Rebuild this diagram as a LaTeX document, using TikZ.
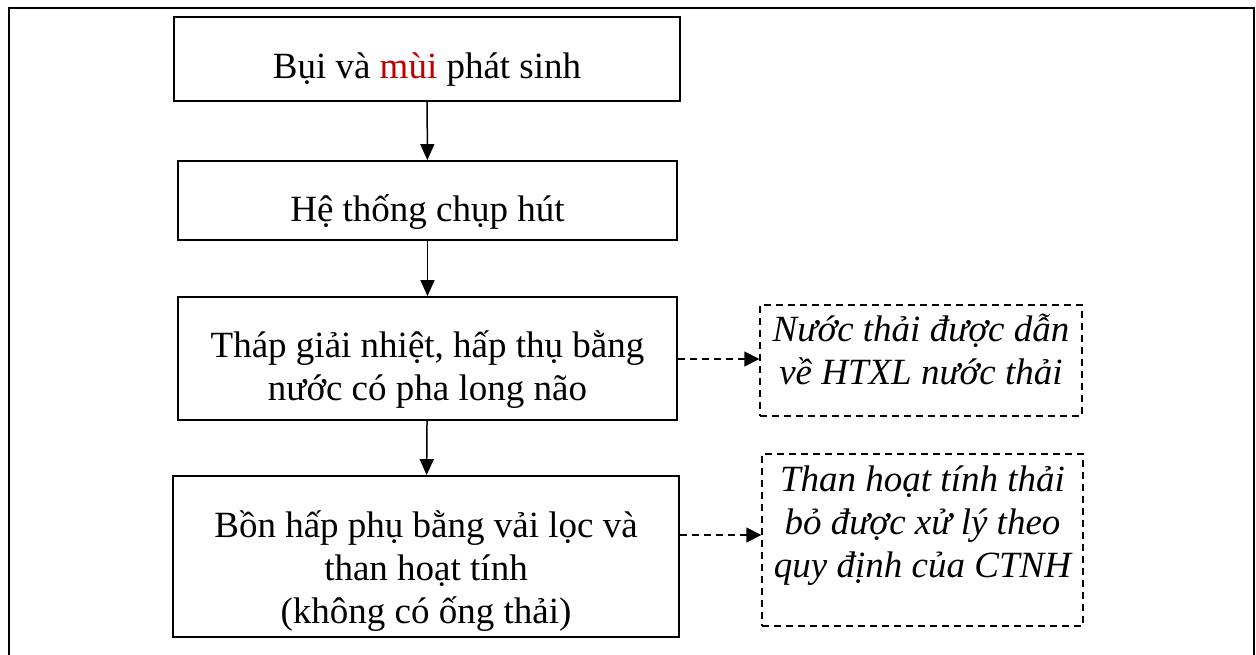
\documentclass[tikz,border=0pt]{standalone}
\usepackage{fontspec}
\setmainfont{Liberation Serif}
\usetikzlibrary{arrows.meta,calc}
\definecolor{mred}{RGB}{192,0,0}
\begin{document}
\begin{tikzpicture}[x=1pt,y=-1pt,
  txt/.style={font=\fontsize{37}{43}\selectfont, align=center},
  sbox/.style={draw, line width=1.8pt, inner sep=0pt},
  dbox/.style={draw, line width=1.4pt, dash pattern=on 7pt off 5pt, inner sep=0pt},
  arr/.style={line width=1.5pt, -{Triangle[length=16pt,width=14pt]}},
  darr/.style={line width=1.5pt, dash pattern=on 7pt off 5pt, -{Triangle[length=15pt,width=15pt]}}]
\useasboundingbox (0,0) rectangle (1256,655);
% outer frame
\draw[line width=2.4pt] (9,655) -- (9,8) -- (1254,8) -- (1254,655);
% main boxes
\node[sbox, minimum width=506pt, minimum height=84pt] (b1) at (427,59) {};
\node[txt] (b1t) at (427,70) {Bụi và \textcolor{mred}{mùi} phát sinh};
\node[sbox, minimum width=499pt, minimum height=79pt] (b2) at (427.5,200.5) {};
\node[txt] (b2t) at (427.5,212) {Hệ thống chụp hút};
\node[sbox, minimum width=499pt, minimum height=123pt] (b3) at (427.5,358.5) {};
\node[txt] (b3t) at (427.5,370) {Tháp giải nhiệt, hấp thụ bằng\\nước có pha long não};
\node[sbox, minimum width=506pt, minimum height=161pt] (b4) at (426,556.5) {};
\node[txt] (b4t) at (426,571) {Bồn hấp phụ bằng vải lọc và\\than hoạt tính\\(không có ống thải)};
% dashed boxes
\node[dbox, minimum width=322pt, minimum height=111pt] (d1) at (921,360.5) {};
\node[txt] (d1t) at (921,349) {\itshape Nước thải được dẫn\\\itshape về HTXL nước thải};
\node[dbox, minimum width=321pt, minimum height=172pt] (d2) at (922.5,540) {};
\node[txt] (d2t) at (922.5,526) {\itshape Than hoạt tính thải\\\itshape bỏ được xử lý theo\\\itshape quy định của CTNH};
% connectors
\draw[arr] (b1) -- (b2);
\draw[arr] (b2) -- (b3);
\draw[arr] (b3) -- (b4);
\draw[darr] ([yshift=-0.5pt]b3.east) -- ([yshift=-0.5pt]b3.east -| d1.west);
\draw[darr] ([yshift=21.5pt]b4.east) -- ([yshift=21.5pt]b4.east -| d2.west);
\end{tikzpicture}
\end{document}
